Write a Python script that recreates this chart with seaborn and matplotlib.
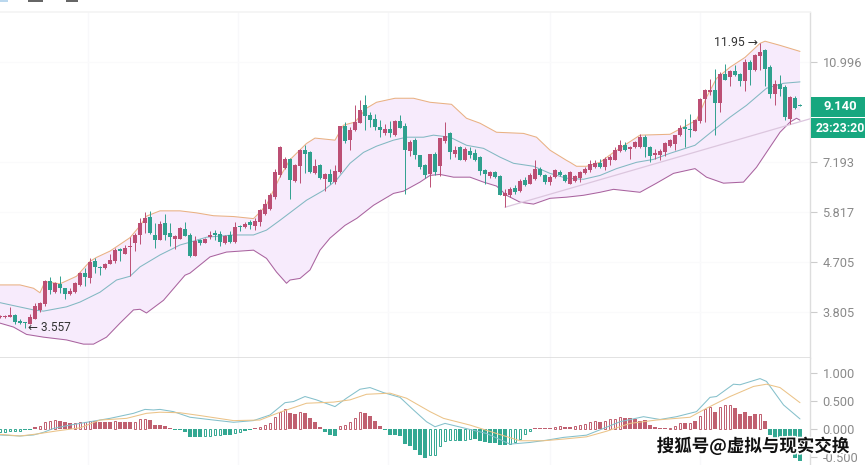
import numpy as np
import pandas as pd
import seaborn as sns
import matplotlib
matplotlib.use("Agg")
import matplotlib.pyplot as plt
from matplotlib.patches import Rectangle
from matplotlib.ticker import FixedLocator, FixedFormatter, NullLocator
import matplotlib.patheffects as pe

# one row per candle: open, close, high, low
candles = [
(3.72,3.74,3.75,3.71),(3.72,3.74,3.76,3.71),(3.73,3.76,3.89,3.73),(3.76,3.64,3.77,3.62),(3.67,3.63,3.69,3.62),
(3.65,3.63,3.65,3.557),(3.62,3.72,3.78,3.61),(3.70,3.90,3.96,3.69),(3.84,3.95,3.97,3.80),(3.93,4.35,4.36,3.91),
(4.35,4.17,4.41,4.10),(4.15,4.30,4.33,4.12),(4.29,4.21,4.44,4.12),(4.21,4.11,4.22,4.03),(4.10,4.16,4.21,4.09),
(4.15,4.31,4.33,4.13),(4.27,4.49,4.52,4.25),(4.50,4.42,4.59,4.25),(4.40,4.70,4.79,4.31),(4.72,4.60,4.78,4.50),
(4.61,4.58,4.63,4.46),(4.58,4.67,4.68,4.57),(4.67,4.75,4.86,4.66),(4.72,4.95,4.99,4.69),(4.97,4.93,4.99,4.72),
(4.88,5.00,5.06,4.87),(5.01,5.04,5.24,4.43),(5.11,5.27,5.32,4.94),(5.28,5.55,5.67,5.08),(5.55,5.67,5.82,5.32),
(5.69,5.32,5.85,5.31),(5.28,5.17,5.55,4.99),(5.17,5.53,5.61,5.16),(5.55,5.28,5.78,5.17),(5.32,5.23,5.55,5.03),
(5.19,5.26,5.28,4.98),(5.19,5.44,5.47,5.18),(5.42,5.26,5.57,5.25),(5.28,4.83,5.32,4.80),(4.83,5.15,5.26,4.82),
(5.17,5.11,5.20,5.06),(5.11,5.20,5.22,5.10),(5.23,5.28,5.36,5.19),(5.32,5.28,5.40,5.17),(5.30,5.13,5.36,5.03),
(5.11,5.26,5.28,5.09),(5.28,5.13,5.36,5.11),(5.12,5.46,5.57,5.10),(5.49,5.46,5.51,5.36),(5.46,5.53,5.59,5.45),
(5.57,5.51,5.62,5.42),(5.49,5.61,5.67,5.40),(5.59,5.87,5.90,5.49),(5.78,6.02,6.16,5.74),(5.90,6.25,6.30,5.86),
(6.20,6.90,7.00,6.15),(6.80,7.68,7.70,6.75),(7.03,7.30,7.35,7.00),(7.30,6.66,7.33,6.16),(6.65,7.10,7.15,6.62),
(7.07,7.59,7.62,6.58),(7.59,7.44,7.73,6.87),(7.52,6.90,7.54,6.88),(6.87,7.07,7.30,6.85),(7.10,6.73,7.15,6.71),
(6.71,6.85,6.87,6.37),(6.85,6.61,7.00,6.55),(6.61,6.93,7.10,6.55),(6.90,8.38,8.40,6.88),(8.38,7.88,8.54,7.79),
(7.90,8.26,8.36,7.57),(8.24,8.54,9.16,8.22),(8.50,8.97,9.36,8.48),(9.16,8.74,9.56,8.26),(8.78,8.62,8.90,8.36),
(8.66,8.36,8.84,8.24),(8.36,8.24,8.60,7.99),(8.15,8.30,8.46,8.07),(8.30,8.13,8.57,7.99),(8.07,8.57,8.60,8.05),
(8.56,8.33,8.78,8.31),(8.38,7.57,8.50,6.28),(7.55,7.84,7.92,7.40),(7.92,7.41,7.96,7.30),(7.41,7.05,7.43,6.98),
(7.10,6.80,7.15,6.72),(6.83,7.44,7.46,6.48),(7.46,6.90,7.50,6.82),(7.07,7.96,7.98,6.78),(7.88,8.04,8.54,7.79),
(8.13,7.52,8.18,7.28),(7.44,7.59,7.71,7.34),(7.66,7.27,7.72,7.25),(7.25,7.62,7.66,7.23),(7.55,7.41,7.68,7.33),
(7.48,7.27,7.60,7.24),(7.34,6.93,7.38,6.80),(6.97,6.83,7.00,6.57),(6.78,6.90,6.93,6.72),(6.90,6.76,6.94,6.74),
(6.78,6.27,6.82,6.25),(6.24,6.31,6.43,5.95),(6.25,6.43,6.48,6.20),(6.45,6.33,6.52,6.28),(6.36,6.64,6.71,6.33),
(6.68,6.52,6.75,6.50),(6.57,6.82,6.86,6.55),(6.71,7.00,7.25,6.68),(7.00,6.80,7.05,6.78),(6.80,6.61,6.85,6.55),
(6.61,6.76,6.80,6.52),(6.76,6.95,7.00,6.74),(6.90,6.80,6.97,6.78),(6.80,6.63,6.84,6.61),(6.57,6.90,6.93,6.55),
(6.64,6.77,6.80,6.60),(6.73,6.90,6.93,6.62),(6.87,7.00,7.05,6.85),(6.95,7.15,7.27,6.90),(7.05,7.17,7.25,7.03),
(7.17,7.05,7.30,7.03),(7.05,7.30,7.34,6.95),(7.25,7.36,7.41,7.10),(7.27,7.57,7.68,7.25),(7.55,7.73,7.91,7.52),
(7.73,7.57,7.84,7.55),(7.62,7.68,7.70,7.30),(7.66,7.84,7.88,7.64),(7.66,8.01,8.12,7.64),(8.01,7.68,8.06,7.36),
(7.68,7.38,7.70,7.20),(7.41,7.48,7.62,7.30),(7.41,7.55,7.62,7.27),(7.52,7.80,7.84,7.38),(7.70,7.89,7.95,7.66),
(7.76,8.06,8.08,7.57),(8.06,8.32,8.41,8.03),(8.35,8.29,8.65,7.68),(8.29,8.24,8.84,8.01),(8.22,8.62,8.66,8.20),
(8.57,9.42,9.45,8.50),(9.42,9.76,9.83,8.53),(9.70,9.79,10.25,9.56),(9.76,9.25,10.70,8.06),(9.25,10.48,10.55,8.91),
(10.48,10.21,10.93,10.18),(10.33,10.60,10.63,9.93),(10.60,10.40,10.86,10.38),(10.45,10.15,10.50,9.93),(10.15,11.01,11.17,9.73),
(11.01,10.63,11.09,9.97),(10.63,11.33,11.38,10.60),(11.30,11.49,11.95,10.63),(11.57,10.70,11.65,9.93),(10.78,9.63,10.86,9.46),
(9.60,10.04,10.18,9.16),(10.04,9.83,10.40,9.52),(9.90,8.72,9.97,8.59),(8.65,9.49,9.52,8.47),(9.46,9.06,9.52,9.00),
(9.16,9.14,9.22,9.12),
]

upper_idx = [0,4,6.7,8,9,12,15.3,18,19.3,22,26,28,29.3,32,36,39.3,42.7,46.7,50.7,52,53.3,56,58,60,61.3,63,67,68.7,71,73.3,75.3,79,82.7,86,90.3,93.3,96,99.3,104.7,107.3,110,113.3,114,115.3,117.3,120,122.7,128,134,136.7,139.3,141.3,143.3,146,149,152,153,156,160]
upper_val = [4.27,4.27,4.21,4.13,4.33,4.29,4.43,4.72,4.80,4.93,5.22,5.49,5.72,5.85,5.85,5.80,5.73,5.71,5.66,5.82,6.00,6.76,7.27,7.58,7.79,7.97,7.90,8.42,8.53,9.05,9.28,9.44,9.44,9.28,9.20,8.67,8.49,8.17,8.13,8.00,7.57,7.25,7.19,7.07,7.07,7.19,7.50,8.07,8.10,8.35,8.60,9.48,10.27,10.77,11.23,11.92,12.03,11.82,11.52]
mid_idx = [0,3.3,6.7,8.7,13.3,16,20,23.3,26,28,32,36,38,41.3,46.7,50.7,53.3,56,61.3,64.7,67.3,70,72.7,75.3,78.7,81.3,84.7,86.7,90,93.3,96.7,100,102.7,106.7,110,113.3,116.7,120,123.3,127.3,130.7,134,139,142.7,146,149.3,153.3,156.7,160]
mid_val = [3.96,3.90,3.84,3.82,3.89,3.97,4.14,4.36,4.43,4.61,4.85,5.06,5.12,5.23,5.28,5.28,5.39,5.62,6.12,6.38,6.67,7.16,7.50,7.70,7.90,8.00,8.00,8.07,8.00,7.73,7.63,7.35,7.16,7.07,6.86,6.72,6.69,6.80,7.00,7.19,7.28,7.47,7.73,8.24,8.71,9.16,9.85,10.06,10.12]
lower_idx = [0,2.7,5.3,8.7,13.3,16.7,18.7,21.3,24,26.7,28,29.3,32.7,37,38,42,45.3,50.7,53.3,55.3,57.3,58,60,62,64,66,69,71.4,74.7,78.7,80.7,84,86,88,90.7,94,96.7,99.3,101.3,104,106.7,110,113.3,116.7,120,122.7,128,131.3,134.7,139,141.3,144.7,148.7,151.3,154,156,158,159.3,160]
lower_val = [3.63,3.57,3.46,3.42,3.38,3.32,3.32,3.42,3.63,3.84,3.85,3.79,4.00,4.45,4.49,4.81,4.91,4.95,4.78,4.51,4.30,4.36,4.39,4.55,4.95,5.21,5.50,5.67,5.99,6.30,6.36,6.61,6.80,6.83,6.75,6.75,6.61,6.50,6.25,6.07,6.02,6.17,6.20,6.25,6.33,6.41,6.33,6.58,6.86,7.00,6.75,6.58,6.61,7.04,7.67,8.17,8.53,8.67,8.60]
trend_idx = [101,162]
trend_val = [5.94,8.65]

macd_hist = [-.05,-.05,-.04,-.04,-.04,-.02,-.02,.03,.05,.12,.14,.16,.14,.12,.11,.11,.13,.13,.15,.15,.12,.12,.12,.14,.12,.12,.12,.13,.17,.18,.16,.08,.08,.05,.01,-.02,-.02,-.05,-.14,-.14,-.14,-.13,-.12,-.11,-.11,-.11,-.11,-.07,-.05,-.03,-.02,.02,.04,.07,.11,.21,.30,.35,.28,.27,.30,.28,.19,.12,.03,-.05,-.10,-.13,.05,.08,.13,.19,.30,.28,.23,.14,.05,-.02,-.11,-.11,-.13,-.27,-.30,-.37,-.46,-.52,
-.46,-.46,-.30,-.21,-.20,-.20,-.21,-.20,-.18,-.17,-.21,-.24,-.25,-.25,-.29,-.29,-.27,-.23,-.18,-.09,-.03,.02,.02,.02,.02,.03,.06,.03,.03,.05,.07,.09,.13,.15,.13,.15,.17,.18,.22,.20,.20,.18,.15,.16,.07,.04,.02,.02,.02,.05,.11,.11,.11,.15,.24,.36,.39,.31,.40,.42,.42,.37,.27,.30,.24,.26,.26,.15,-.11,-.19,-.24,-.30,-.36,-.51,-.57]
hollow_bars = [0,1,2,3,4,8,9,10,11,15,16,17,18,23,27,28,29,41,42,43,44,47,48,52,53,54,55,56,57,60,68,69,70,71,72,
               86,87,88,89,90,91,93,94,102,103,104,105,106,111,112,115,116,117,118,119,121,122,123,124,134,135,136,138,140,141,142,144,145,146,152]
dif_idx = [0,4,6.7,8.7,10.7,14,18,22,26.7,29,30.7,32,34.7,38,42.7,46.7,50.7,54,57,58.7,61,63.3,67,69.3,72,74,76.7,80,82.7,85.3,87,89,92.7,97.3,102,106,109.3,112.7,117.3,120.7,124,128.7,132,135.3,139.3,142,143.3,146.7,148,152,153.3,156.7,160]
dif_val = [-.107,-.125,-.107,-.06,.01,.07,.13,.19,.28,.35,.34,.35,.31,.21,.16,.12,.15,.25,.47,.49,.58,.52,.40,.55,.71,.74,.65,.565,.34,.13,.04,.10,.02,-.08,-.27,-.24,-.20,-.15,-.11,.01,.13,.22,.17,.22,.31,.565,.58,.80,.79,.90,.85,.43,.18]
dea_idx = [0,4,7.3,11.3,16,20,25.3,29.3,32,36,40,46.7,52,56,61.3,66.7,70,73.3,78,81.3,86,88.7,94,99.3,104,108.7,112.7,117.3,121.3,126,131.3,138,141.3,146,150.7,153.3,156,160]
dea_val = [-.095,-.125,-.09,-.035,.02,.16,.19,.28,.30,.29,.24,.15,.16,.30,.46,.48,.52,.62,.64,.55,.31,.19,.07,-.08,-.21,-.21,-.18,-.14,-.04,.10,.16,.21,.37,.58,.76,.80,.74,.47]

price_ticks = [10.996, 7.193, 5.817, 4.705, 3.805]
macd_ticks = [1.0, 0.5, 0.0, -0.5]

RED = "#BC4F74"; GREEN = "#2FA08E"; HRED = "#C06070"; HGREEN = "#33A892"
W, H = 865, 465

sns.set_theme(style="white")
plt.rcParams["font.family"] = ["Roboto", "DejaVu Sans"]
fig = plt.figure(figsize=(W/100, H/100), dpi=100, facecolor="white")
ax = fig.add_axes([0, (H-358)/H, 810/W, 346/H])
ax2 = fig.add_axes([0, 0, 810/W, 107/H])

df = pd.DataFrame(candles, columns=["open", "close", "high", "low"])
df["i"] = df.index
ax.set_yscale("log")

# bands
ax.fill(list(upper_idx)+list(lower_idx[::-1]), list(upper_val)+list(lower_val[::-1]),
        color="#F7EBFC", lw=0, zorder=1)
ax.set_xlim(0, 162)
ax.set_ylim(3.13, 13.62)
sns.lineplot(x=upper_idx, y=upper_val, ax=ax, color="#E9B183", lw=0.75, zorder=3, sort=False, errorbar=None)
sns.lineplot(x=mid_idx, y=mid_val, ax=ax, color="#82B8C2", lw=0.75, zorder=3, sort=False, errorbar=None)
sns.lineplot(x=lower_idx, y=lower_val, ax=ax, color="#A9639F", lw=0.75, zorder=3, sort=False, errorbar=None)
sns.lineplot(x=trend_idx, y=trend_val, ax=ax, color="#DCC6DE", lw=0.9, zorder=3, sort=False, errorbar=None)

# candles
for up, col in ((True, RED), (False, GREEN)):
    d = df[(df.close >= df.open) == up]
    ax.vlines(d.i, d.low, d.high, color=col, lw=0.7, zorder=4)
    ax.bar(d.i, (d.close-d.open).abs().clip(lower=0.02), bottom=d[["open", "close"]].min(axis=1),
           width=0.62, color=col, lw=0, zorder=5)

# annotations
ax.annotate("11.95 \u2192", xy=(152, 11.95), xytext=(-2, 0), textcoords="offset pixels", ha="right", va="center",
            fontsize=8.8, color="#333333", zorder=6)
ax.annotate("\u2190 3.557", xy=(5.5, 3.557), xytext=(1, 0), textcoords="offset pixels", ha="left", va="center",
            fontsize=8.6, color="#333333", zorder=6)

# axes
for a in (ax, ax2):
    a.set_xlim(0, 162)
    a.set_xticks([17.6, 47.6, 77.6, 110, 140])
    a.tick_params(axis="x", length=0, labelbottom=False)
    a.grid(True, axis="x", color="#F8F8FA", lw=1)
    a.set_axisbelow(True)
    a.set_xlabel(""); a.set_ylabel("")
    for s in a.spines.values():
        s.set_visible(False)
    a.spines["right"].set_visible(True)
    a.spines["right"].set_color("#DDDDDD")
    a.spines["right"].set_linewidth(1)
    a.yaxis.tick_right()
    a.tick_params(axis="y", which="major", right=True, length=5, width=0.8, color="#CCCCCC",
                  labelcolor="#8A8A8A", labelsize=9.2, pad=4)
    a.tick_params(axis="y", which="minor", right=False, length=0)

ax.yaxis.set_major_locator(FixedLocator(price_ticks))
ax.yaxis.set_major_formatter(FixedFormatter([f"{v:.3f}" for v in price_ticks]))
ax.yaxis.set_minor_locator(NullLocator())
ax.grid(True, axis="y", which="major", color="#FAFAFB", lw=1)
ax.spines["top"].set_visible(True); ax.spines["top"].set_color("#F4F4F4")
ax.spines["bottom"].set_visible(True); ax.spines["bottom"].set_color("#DDDDDD"); ax.spines["bottom"].set_linewidth(1.2)

# MACD
ax2.set_ylim(-0.643, 1.268)
xs = np.arange(len(macd_hist))
hist = np.array(macd_hist)
hol = np.isin(xs, hollow_bars)
cols = np.where(hist >= 0, HRED, HGREEN)
ax2.bar(xs[~hol], hist[~hol], width=0.72, color=cols[~hol], lw=0, zorder=3)
ax2.bar(xs[hol], hist[hol], width=0.52, facecolor="white", edgecolor=cols[hol], lw=0.7, zorder=3)
sns.lineplot(x=dif_idx, y=dif_val, ax=ax2, color="#85C0CB", lw=0.75, zorder=4, sort=False, errorbar=None)
sns.lineplot(x=dea_idx, y=dea_val, ax=ax2, color="#EBC388", lw=0.75, zorder=4, sort=False, errorbar=None)
ax2.set_xlabel(""); ax2.set_ylabel("")
ax2.set_yticks(macd_ticks)
ax2.set_yticklabels([f"{v:.3f}" for v in macd_ticks])

# price badges
BADGE = "#17A77F"
fig.add_artist(Rectangle((811/W, 1-117/H), 54/W, 20/H, transform=fig.transFigure, color=BADGE, lw=0))
fig.add_artist(Rectangle((811/W, 1-138/H), 54/W, 20/H, transform=fig.transFigure, color=BADGE, lw=0))
fig.text(840/W, 1-106.5/H, "9.140", color="white", fontsize=9.4, fontweight="bold", ha="center", va="center")
fig.text(840.5/W, 1-128/H, "23:23:20", color="white", fontsize=8.8, fontweight="bold", ha="center", va="center")

# cropped toolbar remnants at the very top of the screenshot
for x0, w, c in ((0, 8, "#BBD8EE"), (28, 15, "#666666"), (66, 12, "#666666")):
    fig.add_artist(Rectangle((x0/W, 1-2/H), w/W, 2/H, transform=fig.transFigure, color=c, lw=0))

# watermark
fig.text(753/W, 1-446/H, "搜狐号@虚拟与现实交换", family=["Noto Sans CJK SC", "DejaVu Sans"], fontsize=12.6,
         color="#111111", ha="center", va="center", fontweight="bold",
         path_effects=[pe.withStroke(linewidth=2.5, foreground="white")], zorder=10)

fig.savefig("out.png", dpi=100, facecolor="white")
